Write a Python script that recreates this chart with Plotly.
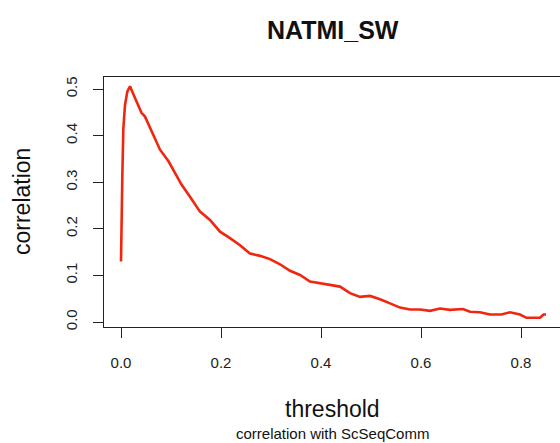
import plotly.graph_objects as go

# data
threshold = [0, 0.001, 0.0026, 0.0047, 0.008, 0.0127, 0.018, 0.028, 0.041, 0.048,
             0.058, 0.078, 0.095, 0.111, 0.121, 0.138, 0.158, 0.178, 0.198, 0.218,
             0.238, 0.258, 0.278, 0.298, 0.318, 0.338, 0.358, 0.378, 0.398, 0.418,
             0.438, 0.458, 0.478, 0.498, 0.518, 0.538, 0.558, 0.578, 0.598, 0.618,
             0.638, 0.658, 0.684, 0.698, 0.718, 0.738, 0.761, 0.778, 0.798, 0.811,
             0.838, 0.845, 0.850]
correlation = [0.13, 0.22, 0.309, 0.416, 0.466, 0.495, 0.506, 0.481, 0.449, 0.441,
               0.416, 0.370, 0.345, 0.316, 0.295, 0.269, 0.237, 0.219, 0.194, 0.180,
               0.165, 0.147, 0.142, 0.135, 0.124, 0.110, 0.101, 0.087, 0.083, 0.079,
               0.076, 0.062, 0.054, 0.056, 0.049, 0.040, 0.031, 0.027, 0.027, 0.024,
               0.029, 0.026, 0.028, 0.022, 0.021, 0.016, 0.016, 0.021, 0.016, 0.009,
               0.009, 0.016, 0.016]
x_ticks = [0.0, 0.2, 0.4, 0.6, 0.8]
x_tick_labels = ["0.0", "0.2", "0.4", "0.6", "0.8"]
y_ticks = [0.0, 0.1, 0.2, 0.3, 0.4, 0.5]
y_tick_labels = ["0.0", "0.1", "0.2", "0.3", "0.4", "0.5"]
title_text = "NATMI_SW"
x_title = "threshold"
y_title = "correlation"
sub_title = "correlation with ScSeqComm"

FONT = "Liberation Sans, Arial, Helvetica, sans-serif"
AX = "#222222"

fig = go.Figure()
fig.add_trace(go.Scatter(x=threshold, y=correlation, mode="lines",
                         line=dict(color="#F0260F", width=2.6), showlegend=False))

fig.update_layout(
    template="none",
    width=560, height=443,
    margin=dict(l=104, r=0, t=77, b=116, pad=0, autoexpand=False),
    paper_bgcolor="white", plot_bgcolor="white",
    font=dict(family=FONT, color="#111111"),
    xaxis=dict(range=[-0.034, 0.878], tickvals=x_ticks, ticktext=x_tick_labels,
               automargin=False,
               showgrid=False, zeroline=False, showline=True, mirror=True,
               linecolor=AX, linewidth=1, ticks="outside", ticklen=10,
               tickcolor=AX, tickwidth=1, tickfont=dict(size=15, family=FONT, color="#222"),
               ticklabelstandoff=12),
    yaxis=dict(range=[-0.0107, 0.526], tickvals=y_ticks, ticktext=y_tick_labels,
               automargin=False,
               showgrid=False, zeroline=False, showline=True, mirror=False,
               linecolor=AX, linewidth=1, ticks="outside", ticklen=10,
               tickcolor=AX, tickwidth=1, tickangle=-90,
               tickfont=dict(size=15, family=FONT, color="#222"),
               ticklabelstandoff=10),
    annotations=[
        dict(text=f"<b>{title_text}</b>", xref="paper", yref="paper",
             x=0.502, y=(327 - 30) / 250, xanchor="center", yanchor="middle",
             showarrow=False, font=dict(size=25, family=FONT, color="#111")),
        dict(text=x_title, xref="paper", yref="paper",
             x=0.502, y=(327 - 409) / 250, xanchor="center", yanchor="middle",
             showarrow=False, font=dict(size=23, family=FONT, color="#111")),
        dict(text=sub_title, xref="paper", yref="paper",
             x=0.502, y=(327 - 433) / 250, xanchor="center", yanchor="middle",
             showarrow=False, font=dict(size=15, family=FONT, color="#111")),
        dict(text=y_title, xref="paper", yref="paper", textangle=-90,
             x=(22 - 104) / 456, y=0.5, xanchor="center", yanchor="middle",
             showarrow=False, font=dict(size=23, family=FONT, color="#111")),
    ],
)

fig.write_html("out.html", config={"displayModeBar": False},
               post_script="document.body.style.margin='0';document.body.style.overflow='hidden';")
